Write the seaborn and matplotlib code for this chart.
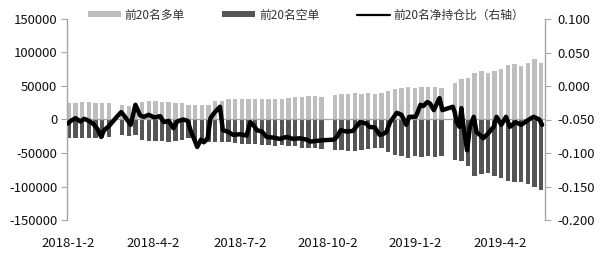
import numpy as np
import pandas as pd
import matplotlib
matplotlib.use("Agg")
import matplotlib.pyplot as plt
import matplotlib.dates as mdates
from matplotlib.patches import Patch
from matplotlib.lines import Line2D
import seaborn as sns

# ---------------- data ----------------
# weekly bars (week starting Monday), values in lots; NaN = holiday week
week_start = pd.date_range("2018-01-01", periods=72, freq="7D")
long_top20 = [25000, 25000, 26000, 26000, 25000, 24000, 24000, np.nan,
              21000, 20000, 21000, 26000, 27000, 27000, 26000, 26000,
              25000, 25000, 22000, 21000, 21000, 22000, 27000, 28000,
              30000, 31000, 30000, 31000, 31000, 31000, 30000, 30000,
              31000, 32000, 33000, 34000, 35000, 35000, 34000, np.nan,
              36000, 38000, 38000, 39000, 38000, 39000, 38000, 40000,
              42000, 45000, 47000, 48000, 47000, 48000, 49000, 48000,
              47000, np.nan, 55000, 60000, 62000, 70000, 72000, 70000,
              72000, 75000, 82000, 83000, 80000, 85000, 90000, 85000]
short_top20 = [-27000, -28000, -28000, -28000, -27000, -28000, -26000, np.nan,
               -23000, -24000, -23000, -31000, -32000, -32000, -32000, -33000,
               -32000, -30000, -28000, -30000, -33000, -34000, -33000, -34000,
               -34000, -35000, -36000, -37000, -37000, -38000, -38000, -39000,
               -38000, -39000, -40000, -42000, -43000, -43000, -44000, np.nan,
               -45000, -46000, -47000, -47000, -46000, -44000, -42000, -43000,
               -48000, -53000, -55000, -57000, -55000, -56000, -54000, -56000,
               -55000, np.nan, -60000, -62000, -70000, -85000, -82000, -80000,
               -85000, -88000, -92000, -94000, -93000, -97000, -100000, -105000]

line_dates = ["2018-01-02", "2018-01-05", "2018-01-10", "2018-01-15", "2018-01-19",
              "2018-01-24", "2018-01-29", "2018-02-02", "2018-02-06", "2018-02-09",
              "2018-02-14", "2018-02-23", "2018-02-27", "2018-03-02", "2018-03-05",
              "2018-03-09", "2018-03-14", "2018-03-19", "2018-03-23", "2018-03-28",
              "2018-04-03", "2018-04-09", "2018-04-13", "2018-04-18", "2018-04-23",
              "2018-04-27", "2018-05-03", "2018-05-08", "2018-05-11", "2018-05-15",
              "2018-05-18", "2018-05-22", "2018-05-25", "2018-05-29", "2018-06-01",
              "2018-06-05", "2018-06-11", "2018-06-14", "2018-06-19", "2018-06-25",
              "2018-07-02", "2018-07-09", "2018-07-13", "2018-07-17", "2018-07-20",
              "2018-07-25", "2018-07-30", "2018-08-06", "2018-08-13", "2018-08-20",
              "2018-08-27", "2018-09-03", "2018-09-10", "2018-09-14", "2018-09-20",
              "2018-09-27", "2018-10-09", "2018-10-12", "2018-10-16", "2018-10-22",
              "2018-10-29", "2018-11-05", "2018-11-12", "2018-11-15", "2018-11-21",
              "2018-11-26", "2018-11-29", "2018-12-03", "2018-12-07", "2018-12-14",
              "2018-12-19", "2018-12-24", "2018-12-27", "2019-01-03", "2019-01-08",
              "2019-01-11", "2019-01-15", "2019-01-18", "2019-01-22", "2019-01-28",
              "2019-01-31", "2019-02-11", "2019-02-13", "2019-02-15", "2019-02-18",
              "2019-02-20", "2019-02-22", "2019-02-26", "2019-03-01", "2019-03-05",
              "2019-03-08", "2019-03-13", "2019-03-15", "2019-03-20", "2019-03-26",
              "2019-03-29", "2019-04-03", "2019-04-08", "2019-04-12", "2019-04-18",
              "2019-04-24", "2019-04-30", "2019-05-07", "2019-05-13", "2019-05-16"]
net_ratio = [-0.056, -0.052, -0.048, -0.053, -0.049,
             -0.052, -0.057, -0.064, -0.076, -0.066,
             -0.060, -0.045, -0.039, -0.044, -0.050,
             -0.058, -0.028, -0.044, -0.046, -0.043,
             -0.047, -0.045, -0.054, -0.052, -0.063,
             -0.053, -0.050, -0.052, -0.066, -0.080,
             -0.091, -0.080, -0.084, -0.078, -0.048,
             -0.040, -0.031, -0.066, -0.068, -0.073,
             -0.072, -0.074, -0.054, -0.060, -0.066,
             -0.068, -0.076, -0.077, -0.079, -0.076,
             -0.079, -0.078, -0.080, -0.083, -0.082,
             -0.081, -0.080, -0.076, -0.066, -0.068,
             -0.067, -0.054, -0.056, -0.061, -0.062,
             -0.073, -0.072, -0.069, -0.054, -0.040,
             -0.043, -0.058, -0.046, -0.046, -0.028,
             -0.030, -0.024, -0.026, -0.036, -0.018,
             -0.036, -0.031, -0.039, -0.054, -0.061,
             -0.033, -0.058, -0.096, -0.061, -0.046,
             -0.069, -0.075, -0.078, -0.071, -0.061,
             -0.046, -0.058, -0.046, -0.061, -0.054,
             -0.058, -0.052, -0.046, -0.050, -0.058]

xtick_dates = ["2018-01-02", "2018-04-02", "2018-07-02", "2018-10-02", "2019-01-02", "2019-04-02"]
xtick_labels = ["2018-1-2", "2018-4-2", "2018-7-2", "2018-10-2", "2019-1-2", "2019-4-2"]
left_ticks = [150000, 100000, 50000, 0, -50000, -100000, -150000]
right_ticks = [0.100, 0.050, 0.000, -0.050, -0.100, -0.150, -0.200]
legend_labels = ["前20名多单", "前20名空单", "前20名净持仓比（右轴）"]

# ---------------- style ----------------
sns.set_theme(style="white")
plt.rcParams["font.family"] = ["Noto Sans CJK SC", "DejaVu Sans"]

c_long = "#BEBEBE"
c_short = "#555555"
c_axis = "#A6A6A6"

bars = pd.DataFrame({
    "x": mdates.date2num(week_start + pd.Timedelta(days=2)),
    "long": long_top20,
    "short": short_top20,
})
bl = bars.dropna(subset=["long"])
bs = bars.dropna(subset=["short"])
ln = pd.DataFrame({"x": mdates.date2num(pd.to_datetime(line_dates)), "y": net_ratio})

fig = plt.figure(figsize=(6.0, 2.58), dpi=100)
ax = fig.add_axes([67 / 600, 1 - 220 / 258, (545 - 67) / 600, (220 - 19) / 258])

sns.barplot(data=bl, x="x", y="long", native_scale=True, color=c_long,
            saturation=1, width=0.66, errorbar=None, ax=ax, linewidth=0)
sns.barplot(data=bs, x="x", y="short", native_scale=True, color=c_short,
            saturation=1, width=0.66, errorbar=None, ax=ax, linewidth=0)

x0 = mdates.date2num(pd.Timestamp("2018-01-01"))
x1 = mdates.date2num(pd.Timestamp("2019-05-19"))
ax.set_xlim(x0, x1)
ax.set_ylim(-150000, 150000)
ax.axhline(0, color=c_axis, lw=0.9, zorder=1.5)

ax.set_yticks(left_ticks)
ax.set_yticklabels([f"{v:d}" for v in left_ticks])
ax.set_xticks(mdates.date2num(pd.to_datetime(xtick_dates)))
ax.set_xticklabels(xtick_labels)
ax.set_xlabel("")
ax.set_ylabel("")

ax2 = ax.twinx()
sns.lineplot(data=ln, x="x", y="y", color="black", lw=3.2, ax=ax2)
ax2.set_ylim(-0.2, 0.1)
ax2.set_yticks(right_ticks)
ax2.set_yticklabels([f"{v:.3f}" for v in right_ticks])
ax2.set_xlim(x0, x1)
ax2.set_ylabel("")

for a in (ax, ax2):
    for s in ("top", "bottom"):
        a.spines[s].set_visible(False)
    a.spines["left"].set_color(c_axis)
    a.spines["right"].set_color(c_axis)
    a.spines["left"].set_linewidth(1.0)
    a.spines["right"].set_linewidth(1.0)

ax.spines["right"].set_visible(False)
ax2.spines["left"].set_visible(False)

ax.tick_params(axis="y", which="both", left=True, length=4, width=0.8, color=c_axis,
               labelsize=9.5, labelcolor="#111111", pad=3)
ax.tick_params(axis="x", bottom=False, labelsize=9.5, labelcolor="#111111", pad=6)
ax2.tick_params(axis="y", right=True, length=4, width=0.8, color=c_axis,
                labelsize=9.5, labelcolor="#111111", pad=5)

handles = [Patch(facecolor=c_long, edgecolor="none"),
           Patch(facecolor=c_short, edgecolor="none"),
           Line2D([0], [0], color="black", lw=1.6)]
fig.legend(handles, legend_labels, loc="center", bbox_to_anchor=(0.51, 1 - 15 / 258),
           ncol=3, frameon=False, fontsize=8.5, handlelength=2.8, handleheight=0.45,
           handletextpad=0.3, columnspacing=3.2, labelcolor="#333333")

fig.savefig("out.png", dpi=100)
